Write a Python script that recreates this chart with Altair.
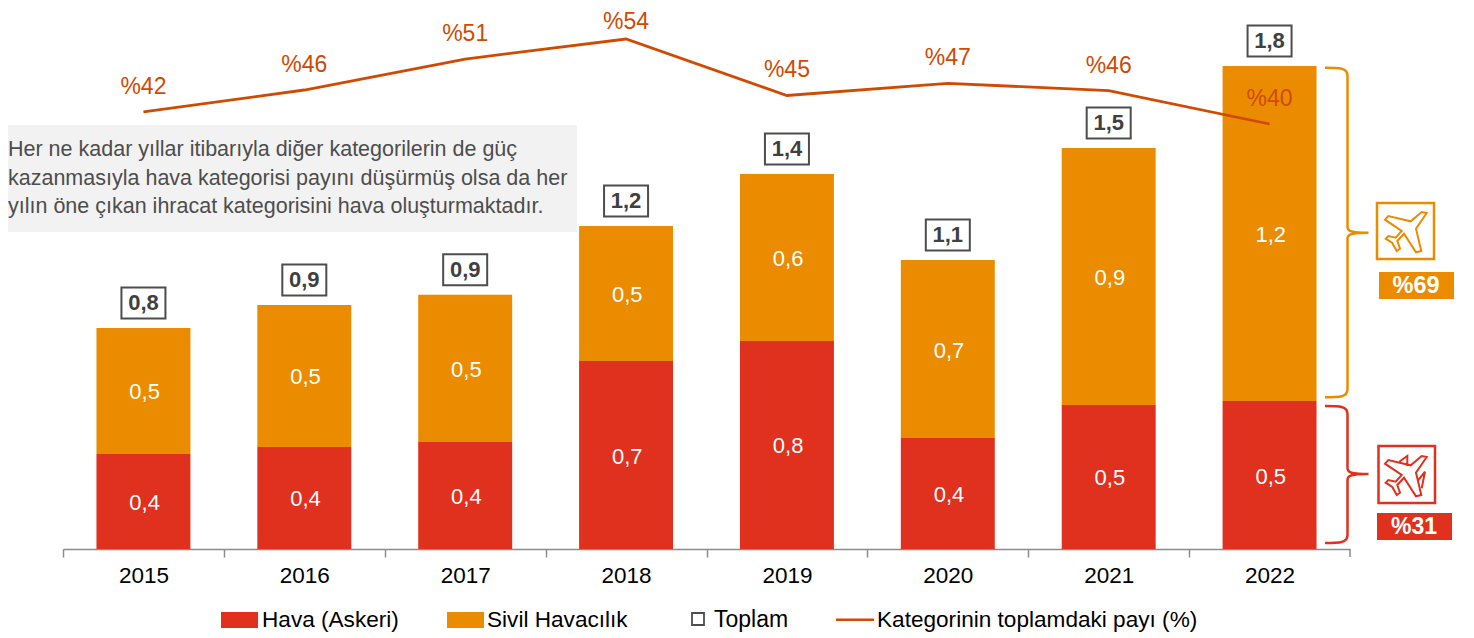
import altair as alt
import pandas as pd

years = ["2015", "2016", "2017", "2018", "2019", "2020", "2021", "2022"]
air_military = [0.344, 0.370, 0.388, 0.681, 0.754, 0.402, 0.522, 0.536]
civil_aviation = [0.457, 0.514, 0.533, 0.489, 0.605, 0.645, 0.931, 1.214]
military_labels = ["0,4", "0,4", "0,4", "0,7", "0,8", "0,4", "0,5", "0,5"]
civil_labels = ["0,5", "0,5", "0,5", "0,5", "0,6", "0,7", "0,9", "1,2"]
total_labels = ["0,8", "0,9", "0,9", "1,2", "1,4", "1,1", "1,5", "1,8"]
share_values = [42.0, 45.6, 50.7, 54.0, 44.7, 46.7, 45.5, 40.0]
share_labels = ["%42", "%46", "%51", "%54", "%45", "%47", "%46", "%40"]
note_lines = [
    "Her ne kadar yıllar itibarıyla diğer kategorilerin de güç",
    "kazanmasıyla hava kategorisi payını düşürmüş olsa da her",
    "yılın öne çıkan ihracat kategorisini hava oluşturmaktadır.",
]

RED = "#E0301E"
ORANGE = "#EB8C00"
LINE = "#D04A02"
GREY = "#4D4D4D"
AXIS = "#8C8C8C"
FONT = "Liberation Sans"
PX_PER_UNIT = 276
BASE = 541
GAP_HALF = 33.46

df = pd.DataFrame({
    "year": years, "red": air_military, "orange": civil_aviation,
    "red_label": military_labels, "orange_label": civil_labels,
    "total_label": total_labels, "share": share_values, "share_label": share_labels,
})
df["total"] = df["red"] + df["orange"]

x = alt.X("year:N", sort=years, title=None,
          scale=alt.Scale(domain=years, range=[55, 1342], paddingInner=0.416, paddingOuter=0.208),
          axis=alt.Axis(bandPosition=0, tickOffset=-GAP_HALF, labelOffset=GAP_HALF, labelAngle=0,
                        tickSize=8, tickColor=AXIS, domainColor=AXIS, tickWidth=1.5, domainWidth=1.5,
                        labelFontSize=22.5, labelColor="#000000", labelFont=FONT, labelPadding=7,
                        grid=False))
yscale = alt.Scale(domain=[0, BASE / PX_PER_UNIT], range=[BASE, 0])
share_scale = alt.Scale(domain=[40, 54], range=[116, 31])

base = alt.Chart(df)
bars_red = base.mark_bar(color=RED).encode(x=x, y=alt.Y("red:Q", scale=yscale, axis=None))
bars_orange = base.mark_bar(color=ORANGE).encode(x=x, y=alt.Y("red:Q", scale=yscale, axis=None),
                                                 y2=alt.Y2("total:Q"))
txt = dict(font=FONT, fontSize=22, color="white", xOffset=1.2, yOffset=1.5)
lab_red = base.transform_calculate(m="datum.red/2").mark_text(**txt).encode(
    x=x, y=alt.Y("m:Q", scale=yscale, axis=None), text="red_label:N")
lab_orange = base.transform_calculate(m="datum.red+datum.orange/2").mark_text(**txt).encode(
    x=x, y=alt.Y("m:Q", scale=yscale, axis=None), text="orange_label:N")
tot_box = base.mark_point(shape="M-22,-15.5H22V15.5H-22Z", size=4, filled=False, opacity=1,
                          stroke=GREY, strokeWidth=2, yOffset=-25).encode(
    x=x, y=alt.Y("total:Q", scale=yscale, axis=None))
tot_text = base.mark_text(font=FONT, fontSize=22, fontWeight="bold", color="#404040", yOffset=-25).encode(
    x=x, y=alt.Y("total:Q", scale=yscale, axis=None), text="total_label:N")

line = base.mark_line(color=LINE, strokeWidth=2.8).encode(
    x=x, y=alt.Y("share:Q", scale=share_scale, axis=None))
share_txt = base.transform_filter("datum.year != '2018'").mark_text(
    font=FONT, fontSize=23, color=LINE, yOffset=-25).encode(
    x=x, y=alt.Y("share:Q", scale=share_scale, axis=None), text="share_label:N")
share_txt_top = base.transform_filter("datum.year == '2018'").mark_text(
    font=FONT, fontSize=23, color=LINE, yOffset=-17).encode(
    x=x, y=alt.Y("share:Q", scale=share_scale, axis=None), text="share_label:N")

one = pd.DataFrame({"a": [0]})


def P(px, py):
    # page pixel -> view pixel
    return dict(x=alt.value(px - 8), y=alt.value(py - 8))


def box(x0, y0, x1, y1, **kw):
    return alt.Chart(one).mark_rect(**kw).encode(
        x=alt.value(x0 - 8), x2=alt.value(x1 - 8), y=alt.value(y0 - 8), y2=alt.value(y1 - 8))


def label(px, py, text, align="center", size=22.6, color="#000000", weight="normal"):
    return alt.Chart(one).mark_text(text=text, font=FONT, fontSize=size, align=align, color=color,
                                    fontWeight=weight, baseline="middle").encode(**P(px, py))


def glyph(px, py, path, color, sw=2.5):
    return alt.Chart(one).mark_point(shape=path, size=4, opacity=1, stroke=color, strokeWidth=sw,
                                     filled=False).encode(**P(px, py))


def bracket(top, bottom):
    return (f"M-22.5,{-top} C-8,{-top} 0,{-top} 0,{-top + 8} L0,-6 C0,-1.5 4,0 21,0 "
            f"C4,0 0,1.5 0,6 L0,{bottom - 8} C0,{bottom} -8,{bottom} -22.5,{bottom}")


PLANE = ("M20.7,-18 L10,-2.3 L15.3,20 L10,21.3 L-2,2.7 L-8.7,10 L-6,17.7 L-9.3,20 L-13.7,12 L-20.3,7.7 "
         "L-17.7,5 L-10.3,6.7 L-4.3,0 L-21,-11.3 L-17.7,-15 L4.7,-9.7 L15.7,-19 Z")
FINS = " M-6.7,-13.3 L1.3,-19 L1.3,-9 M12.3,5 L19,-3.3 L15.7,13.3"

note = [box(0, 125, 577, 232, fill="#F2F2F2")]
for text, py in zip(note_lines, [150, 179, 207]):
    note.append(label(8, py, text, align="left", size=21.5, color=GREY))

last_tick = alt.Chart(one).mark_rule(color=AXIS, strokeWidth=1.5).encode(
    x=alt.value(1342), y=alt.value(BASE), y2=alt.value(BASE + 8))

side = [
    glyph(1347.5, 232.7, bracket(165, 164.5), ORANGE),
    glyph(1347.5, 474, bracket(68, 69), RED),
    box(1377, 203, 1434, 259, fill="white", stroke=ORANGE, strokeWidth=2.5),
    box(1378.5, 446, 1435, 503, fill="white", stroke=RED, strokeWidth=2.5),
    glyph(1406, 231, PLANE, ORANGE, 2),
    glyph(1406, 475, PLANE + FINS, RED, 2),
    box(1379, 272, 1454, 299, fill=ORANGE),
    box(1377, 513, 1452, 540, fill=RED),
    label(1416, 285.5, "%69", size=23.5, color="white", weight="bold"),
    label(1414, 527, "%31", size=23, color="white", weight="bold"),
]

legend = [
    box(221, 612, 258, 628, fill=RED),
    label(262, 620, "Hava (Askeri)", align="left"),
    box(447, 612, 484, 628, fill=ORANGE),
    label(487, 620, "Sivil Havacılık", align="left"),
    box(692, 613, 704, 625, fill="white", stroke=GREY, strokeWidth=1.8),
    label(714, 620, "Toplam", align="left", size=23),
    box(836, 618.5, 874, 621, fill=LINE),
    label(877, 620, "Kategorinin toplamdaki payı (%)", align="left"),
]

bars = alt.layer(bars_red, bars_orange, lab_red, lab_orange, tot_box, tot_text)
lines = alt.layer(line, share_txt, share_txt_top)

chart = alt.layer(bars, lines, last_tick, *note, *side, *legend).resolve_scale(y="independent").properties(
    width=1458, height=BASE,
    padding={"left": 0, "top": 0, "right": 0, "bottom": 88},
    autosize=alt.AutoSizeParams(type="none"),
).configure_view(stroke=None)

chart.save("out.html", embed_options={"renderer": "svg", "actions": False})
